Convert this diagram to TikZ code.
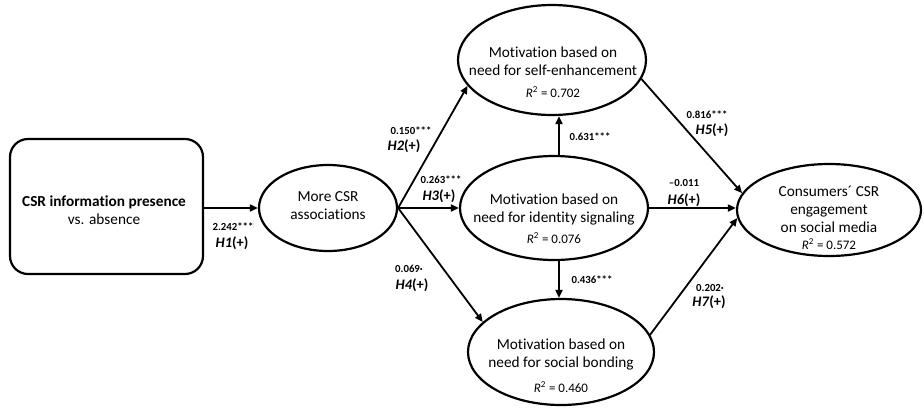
\documentclass[tikz,border=0pt]{standalone}
\usepackage{fontspec}
\setmainfont{Carlito}[Ligatures=NoCommon]
\usetikzlibrary{shapes.geometric,arrows.meta}
\begin{document}
\begin{tikzpicture}[x=1pt,y=-1pt,
 ell/.style={draw,ellipse,line width=2.2pt,inner sep=0pt},
 arr/.style={line width=1.8pt,-{Triangle[length=8pt,width=7pt]}},
 txt/.style={font=\fontsize{15.3}{18}\selectfont,align=center,inner sep=0pt},
 coef/.style={font=\fontsize{10.8}{12}\selectfont\bfseries,inner sep=0pt},
 hyp/.style={font=\fontsize{14.5}{16}\selectfont\bfseries,inner sep=0pt},
 rsq/.style={font=\fontsize{13}{15}\selectfont,inner sep=0pt}]
\useasboundingbox (0,0) rectangle (924,408);
% source box
\node[draw,rounded corners=18pt,line width=2.2pt,minimum width=193pt,minimum height=135pt] (src) at (106.5,206.5) {};
\node[txt] (srcT) at (104,210) {\textbf{CSR information presence}\\vs. absence};
% ellipses
\node[ell,minimum width=138pt,minimum height=86pt] (assoc) at (328,208) {};
\node[txt] (assocT) at (328,206) {More CSR\\associations};
\node[ell,minimum width=188pt,minimum height=110pt] (top) at (552,60) {};
\node[txt] (topT) at (553,61) {Motivation based on\\need for self-enhancement};
\node[rsq] (topR) at (553,92) {\textit{R}\textsuperscript{2} = 0.702};
\node[ell,minimum width=188pt,minimum height=104pt] (mid) at (554,208) {};
\node[txt] (midT) at (554,209) {Motivation based on\\need for identity signaling};
\node[rsq] (midR) at (554,238) {\textit{R}\textsuperscript{2} = 0.076};
\node[ell,minimum width=186pt,minimum height=106pt] (bot) at (561,352) {};
\node[txt] (botT) at (561,354) {Motivation based on\\need for social bonding};
\node[rsq] (botR) at (561,387) {\textit{R}\textsuperscript{2} = 0.460};
\node[ell,minimum width=184pt,minimum height=92pt] (dv) at (829,210) {};
\node[txt] (dvT) at (829,209) {Consumers´ CSR\\engagement\\on social media};
\node[rsq] (dvR) at (829,244) {\textit{R}\textsuperscript{2} = 0.572};
% connectors
\coordinate (vx) at (559,0);
\draw[arr] (src.east |- assoc.west) -- (assoc.west);
\draw[arr] (assoc.east) -- (top.197);
\draw[arr] (assoc.east) -- (mid.west);
\draw[arr] (assoc.east) -- (bot.159);
\draw[arr] (mid.north -| vx) -- (top.south -| vx);
\draw[arr] (mid.south -| vx) -- (bot.north -| vx);
\draw[arr] (top.-12) -- (dv.169);
\draw[arr] (mid.east) -- (mid.east -| dv.west);
\draw[arr] (bot.11) -- (dv.185);
% labels
\node[coef] (c1) at (233,227) {2.242***};
\node[hyp] (h1) at (232,243) {\textit{H1}(+)};
\node[coef] (c2) at (411,131) {0.150***};
\node[hyp] (h2) at (404,146) {\textit{H2}(+)};
\node[coef] (c3) at (441,180) {0.263***};
\node[hyp] (h3) at (439,196) {\textit{H3}(+)};
\node[coef] (c4) at (409,269) {0.069·};
\node[hyp] (h4) at (412,285) {\textit{H4}(+)};
\node[coef] (c8) at (590,137) {0.631***};
\node[coef] (c9) at (592,280) {0.436***};
\node[coef] (c5) at (707,115) {0.816***};
\node[hyp] (h5) at (712,130) {\textit{H5}(+)};
\node[coef] (c6) at (684,183) {–0.011};
\node[hyp] (h6) at (684,200) {\textit{H6}(+)};
\node[coef] (c7) at (710,288) {0.202·};
\node[hyp] (h7) at (709,302) {\textit{H7}(+)};
\end{tikzpicture}
\end{document}
